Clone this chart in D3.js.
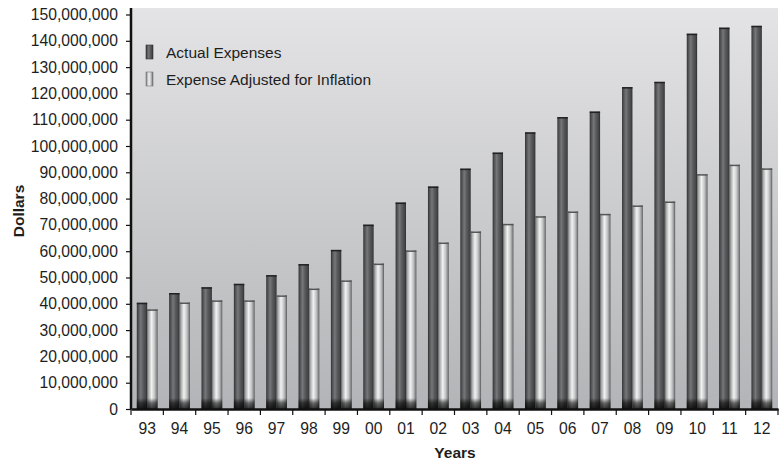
<!DOCTYPE html>
<html><head><meta charset="utf-8">
<script src="https://cdn.jsdelivr.net/npm/d3@7"></script>
<style>
body{margin:0;background:#fff;}
text{font-family:"Liberation Sans",Arial,Helvetica,sans-serif;fill:#1e1e1e;}
</style></head>
<body><svg id="c" width="781" height="464"></svg>
<script>
const years = ["93","94","95","96","97","98","99","00","01","02","03","04","05","06","07","08","09","10","11","12"];
const seriesNames = ["Actual Expenses","Expense Adjusted for Inflation"];
const actual = [40.4,44.1,46.3,47.6,50.9,55.1,60.5,70.1,78.5,84.6,91.4,97.5,105.2,111.0,113.1,122.4,124.4,142.7,145.0,145.7].map(v=>v*1e6);
const adjusted = [37.9,40.5,41.3,41.3,43.2,45.8,48.9,55.3,60.3,63.3,67.5,70.4,73.3,75.1,74.2,77.4,78.9,89.3,92.9,91.5].map(v=>v*1e6);
const yTicks = d3.range(0,150000001,10000000);

const svg = d3.select("#c");
const W = 781, H = 464;
const m = {l:131, r:3, t:8};
const y0px = 409;
const x = d3.scaleBand().domain(years).range([m.l, W-m.r]).paddingInner(0).paddingOuter(0);
const xs = d3.scaleBand().domain([0,1]).range([0, x.bandwidth()]).paddingInner(0).paddingOuter(0.56);
const y = d3.scaleLinear().domain([0,150000000]).range([y0px, 14.5]);

const defs = svg.append("defs");
const bg = defs.append("linearGradient").attr("id","bg").attr("x1",0).attr("y1",0).attr("x2",0).attr("y2",1);
bg.append("stop").attr("offset","0").attr("stop-color","#e4e4e6");
bg.append("stop").attr("offset","1").attr("stop-color","#b3b4b7");

function hgrad(id, stops){
  const g = defs.append("linearGradient").attr("id",id).attr("x1",0).attr("y1",0).attr("x2",1).attr("y2",0);
  stops.forEach(s=>g.append("stop").attr("offset",s[0]).attr("stop-color",s[1]));
}
hgrad("g0",[[0,"#2f2f30"],[0.12,"#4d4d4f"],[0.38,"#76777a"],[0.6,"#5b5c5e"],[0.88,"#454547"],[1,"#2a2a2b"]]);
hgrad("g1",[[0,"#5f6062"],[0.12,"#a3a4a6"],[0.42,"#f2f2f2"],[0.7,"#c4c5c7"],[0.9,"#8a8b8d"],[1,"#4f5052"]]);
const sh = defs.append("linearGradient").attr("id","sh").attr("x1",0).attr("y1",0).attr("x2",0).attr("y2",1);
sh.append("stop").attr("offset","0").attr("stop-color","#000").attr("stop-opacity",0);
sh.append("stop").attr("offset","0.45").attr("stop-color","#000").attr("stop-opacity",0.55);
sh.append("stop").attr("offset","1").attr("stop-color","#000").attr("stop-opacity",0.8);

svg.append("rect").attr("x",m.l).attr("y",m.t).attr("width",W-m.r-m.l).attr("height",y(0)-m.t).attr("fill","url(#bg)");

const data = years.map((yr,i)=>({yr, vals:[actual[i],adjusted[i]]}));
const g = svg.append("g");
data.forEach(d=>{
  d.vals.forEach((v,k)=>{
    const bx = x(d.yr)+xs(k), bw = xs.bandwidth();
    g.append("rect").attr("x",bx).attr("y",y(v)).attr("width",bw).attr("height",y(0)-y(v)).attr("fill",`url(#g${k})`);
    g.append("rect").attr("x",bx).attr("y",y(v)).attr("width",bw).attr("height",1.5).attr("fill",k?"#555":"#222");
    g.append("rect").attr("x",bx).attr("y",y(0)-11).attr("width",bw).attr("height",11).attr("fill","url(#sh)");
  });
});

const ya = svg.append("g").attr("transform",`translate(${m.l},0)`)
  .call(d3.axisLeft(y).tickValues(yTicks).tickFormat(d3.format(",")).tickSize(5).tickSizeOuter(0).tickPadding(8));
ya.select(".domain").remove();
ya.append("line").attr("x1",0).attr("x2",0).attr("y1",m.t).attr("y2",y(0)).attr("stroke","#111").attr("stroke-width",2.5);
ya.selectAll(".tick line").attr("stroke","#111").attr("stroke-width",1.2);
ya.selectAll("text").style("font-size","15.7px").attr("fill","#1e1e1e");

const xa = svg.append("g").attr("transform",`translate(0,${y(0)})`)
  .call(d3.axisBottom(x).tickSize(0).tickPadding(14));
xa.select(".domain").attr("stroke","#111").attr("stroke-width",2.5);
xa.selectAll("text").style("font-size","15.7px").attr("fill","#1e1e1e");
xa.selectAll(".bt").data(years).enter().append("line")
  .attr("x1",d=>x(d)+x.bandwidth()).attr("x2",d=>x(d)+x.bandwidth()).attr("y1",0).attr("y2",6)
  .attr("stroke","#111").attr("stroke-width",1.2);
xa.append("line").attr("x1",m.l).attr("x2",m.l).attr("y1",0).attr("y2",6).attr("stroke","#111").attr("stroke-width",1.2);

svg.append("text").attr("x",455).attr("y",458).attr("text-anchor","middle").style("font-size","15.5px").style("font-weight","bold").text("Years");
svg.append("text").attr("transform","translate(24,211) rotate(-90)").attr("text-anchor","middle").style("font-size","15.5px").style("font-weight","bold").text("Dollars");

const leg = svg.append("g");
seriesNames.forEach((n,i)=>{
  const ly = 52 + i*27;
  leg.append("rect").attr("x",146).attr("y",ly-7).attr("width",7).attr("height",14).attr("fill",`url(#g${i})`).attr("stroke",i?"#777":"#333").attr("stroke-width",0.6);
  leg.append("text").attr("x",166).attr("y",ly+5.5).style("font-size","15.5px").attr("fill","#1e1e1e").text(n);
});
</script></body></html>
